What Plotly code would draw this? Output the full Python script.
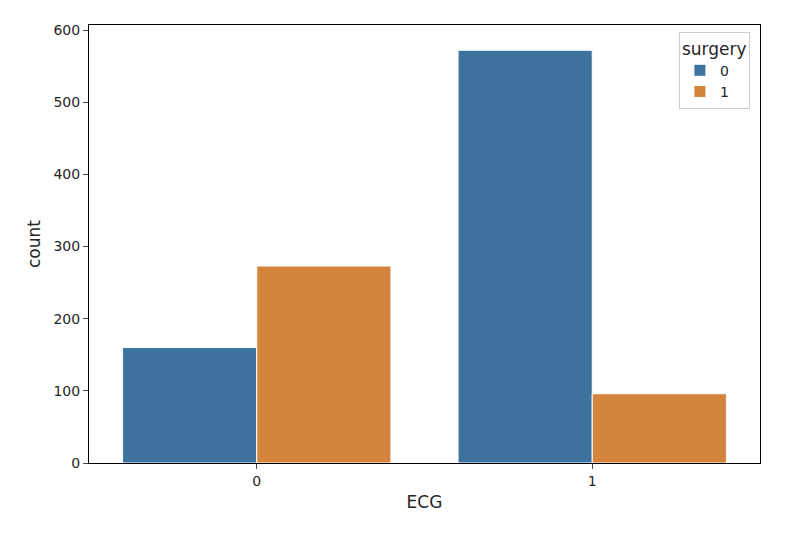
import plotly.graph_objects as go

ecg = [0, 1]
surgery0 = [160, 572]
surgery1 = [273, 96]
yticks = [0, 100, 200, 300, 400, 500, 600]

fig = go.Figure()
fig.add_bar(x=ecg, y=surgery0, name="0", marker=dict(color="#3e729e", line=dict(color="white", width=1)))
fig.add_bar(x=ecg, y=surgery1, name="1", marker=dict(color="#d5843e", line=dict(color="white", width=1)))
fig.update_layout(
    width=786, height=544, barmode="group", bargap=0.2, bargroupgap=0,
    plot_bgcolor="white", paper_bgcolor="white",
    margin=dict(l=81, r=34, t=17, b=89),
    font=dict(family="DejaVu Sans", size=14, color="#262626"),
    legend=dict(title=dict(text="surgery", side="top"), x=0.985, y=0.985, xanchor="right", yanchor="top",
                bordercolor="#cccccc", borderwidth=1, bgcolor="white", font=dict(size=14)),
    xaxis=dict(title=dict(text="ECG", standoff=8), range=[-0.5, 1.5], tickvals=ecg, ticktext=["0", "1"],
               showline=True, linecolor="black", mirror=True, ticks="outside", ticklen=5, showgrid=False,
               tickfont=dict(size=14)),
    yaxis=dict(title=dict(text="count", standoff=8), range=[0, 607], tickvals=yticks,
               showline=True, linecolor="black", mirror=True, ticks="outside", ticklen=5, showgrid=False,
               zeroline=False, tickfont=dict(size=14)),
)
fig.write_html("out.html")
